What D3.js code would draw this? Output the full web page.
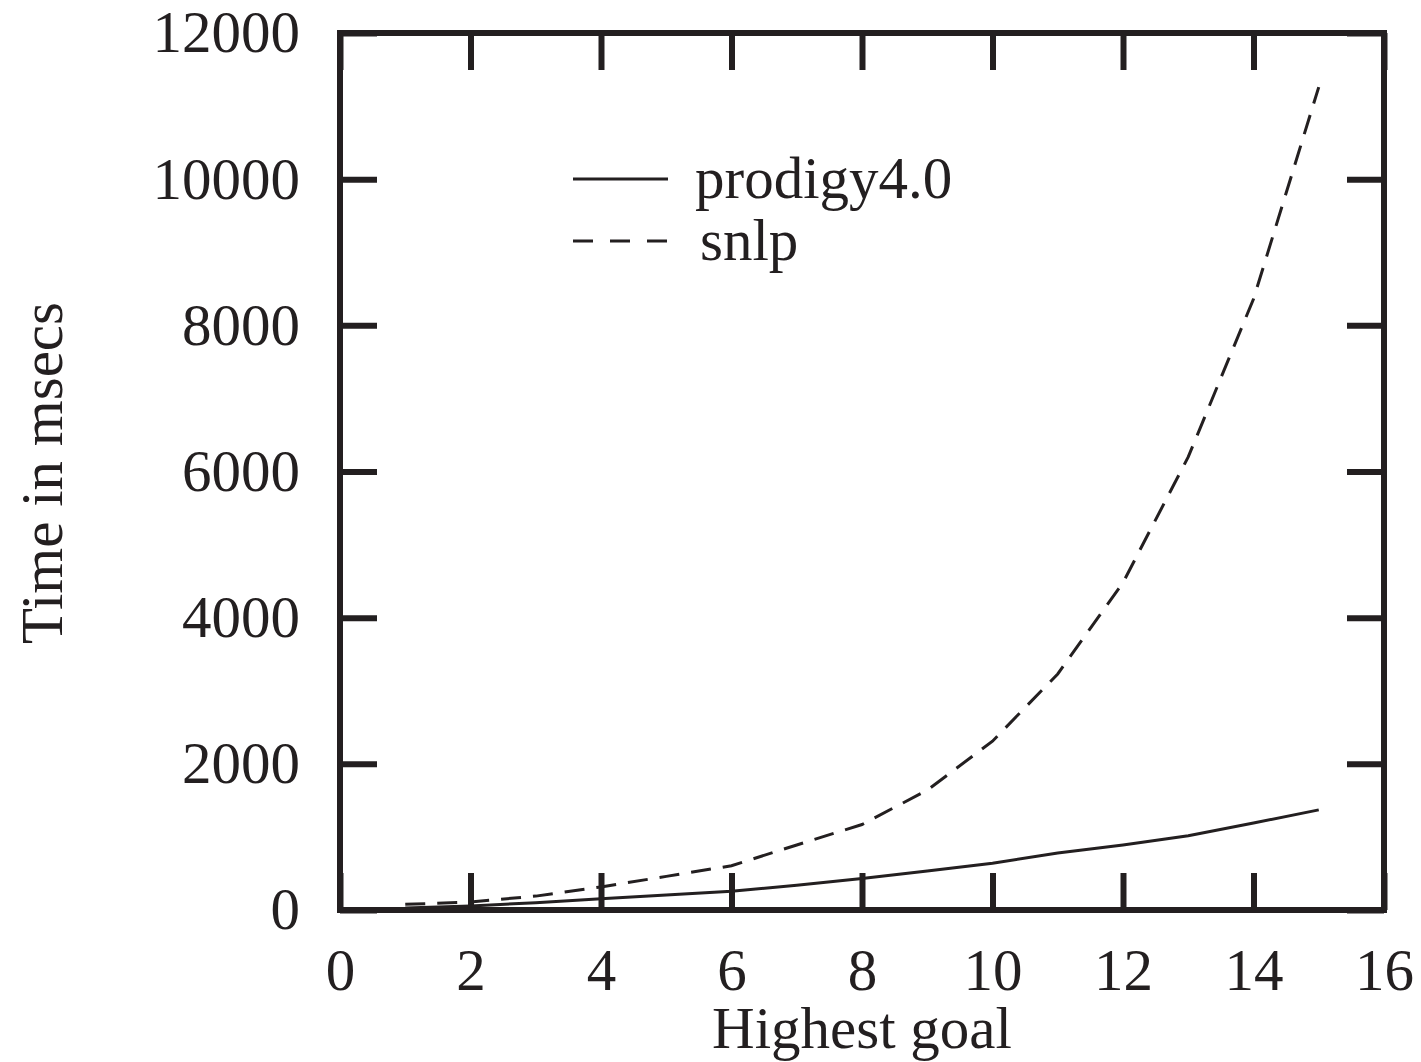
<!DOCTYPE html>
<html>
<head>
<meta charset="utf-8">
<script src="https://cdn.jsdelivr.net/npm/d3@7"></script>
<style>
  body { margin: 0; background: #fff; }
  svg text { font-family: "Liberation Serif", "Times New Roman", serif; fill: #231f20; }
</style>
</head>
<body>
<div id="chart"></div>
<script>
// goals 1..15, time in msecs
var goals = [1, 2, 3, 4, 5, 6, 7, 8, 9, 10, 11, 12, 13, 14, 15];
var prodigy = [27, 55, 100, 155, 205, 257, 340, 430, 535, 640, 780, 890, 1015, 1190, 1370];
var snlp = [77, 110, 190, 316, 460, 606, 890, 1170, 1640, 2310, 3230, 4480, 6200, 8360, 11260];
var xTicks = [0, 2, 4, 6, 8, 10, 12, 14, 16];
var yTicks = [0, 2000, 4000, 6000, 8000, 10000, 12000];
var seriesNames = ['prodigy4.0', 'snlp'];

var W = 1421, H = 1062;
var margin = { top: 33, right: 37, bottom: 152, left: 340 };
var width = W - margin.left - margin.right,
    height = H - margin.top - margin.bottom;
var ink = '#231f20';

var svg = d3.select('#chart').append('svg')
    .attr('width', W)
    .attr('height', H)
  .append('g')
    .attr('transform', 'translate(' + margin.left + ',' + margin.top + ')');

var x = d3.scaleLinear().domain([0, 16]).range([0, width]);
var y = d3.scaleLinear().domain([0, 12000]).range([height, 0]);

function styleAxis(g) {
  g.select('.domain').remove();
  g.selectAll('.tick line').attr('stroke', ink).attr('stroke-width', 6);
  g.selectAll('.tick text').attr('font-size', 59).attr('fill', ink)
    .style('font-family', '"Liberation Serif", serif');
}

// bottom axis with labels, ticks pointing inward
svg.append('g')
    .attr('transform', 'translate(0,' + height + ')')
    .call(d3.axisBottom(x).tickValues(xTicks).tickSize(-37).tickPadding(38).tickFormat(d3.format('d')))
    .call(styleAxis);

// left axis with labels
svg.append('g')
    .call(d3.axisLeft(y).tickValues(yTicks).tickSize(-37).tickPadding(40).tickFormat(d3.format('d')))
    .call(styleAxis);

// top and right: ticks only
svg.append('g')
    .call(d3.axisTop(x).tickValues(xTicks).tickSize(-37).tickFormat(''))
    .call(styleAxis);
svg.append('g')
    .attr('transform', 'translate(' + width + ',0)')
    .call(d3.axisRight(y).tickValues(yTicks).tickSize(-37).tickFormat(''))
    .call(styleAxis);

// frame
svg.append('rect')
    .attr('width', width)
    .attr('height', height)
    .attr('fill', 'none')
    .attr('stroke', ink)
    .attr('stroke-width', 6);

var line = d3.line()
    .x(function(d) { return x(d[0]); })
    .y(function(d) { return y(d[1]); });

var dashes = [null, '20,12'];
[prodigy, snlp].forEach(function (vals, i) {
  svg.append('path')
      .attr('d', line(goals.map(function (g, j) { return [g, vals[j]]; })))
      .attr('fill', 'none')
      .attr('stroke', ink)
      .attr('stroke-width', 3)
      .attr('stroke-dasharray', dashes[i]);
});

// legend
var legendY = [179 - margin.top, 241 - margin.top];
var legendTextX = [695 - margin.left, 700 - margin.left];
seriesNames.forEach(function (name, i) {
  svg.append('line')
      .attr('x1', 573 - margin.left).attr('x2', 668 - margin.left)
      .attr('y1', legendY[i]).attr('y2', legendY[i])
      .attr('stroke', ink)
      .attr('stroke-width', 3)
      .attr('stroke-dasharray', i ? '20,17' : null);
  svg.append('text')
      .attr('x', legendTextX[i])
      .attr('y', legendY[i])
      .attr('dy', '0.32em')
      .attr('font-size', 59)
      .text(name);
});

// axis titles
svg.append('text')
    .attr('x', width / 2)
    .attr('y', height + 138)
    .attr('text-anchor', 'middle')
    .attr('font-size', 59)
    .text('Highest goal');

svg.append('text')
    .attr('transform', 'translate(' + (62 - margin.left) + ',' + (473 - margin.top) + ') rotate(-90)')
    .attr('text-anchor', 'middle')
    .attr('font-size', 59)
    .text('Time in msecs');
</script>
</body>
</html>
